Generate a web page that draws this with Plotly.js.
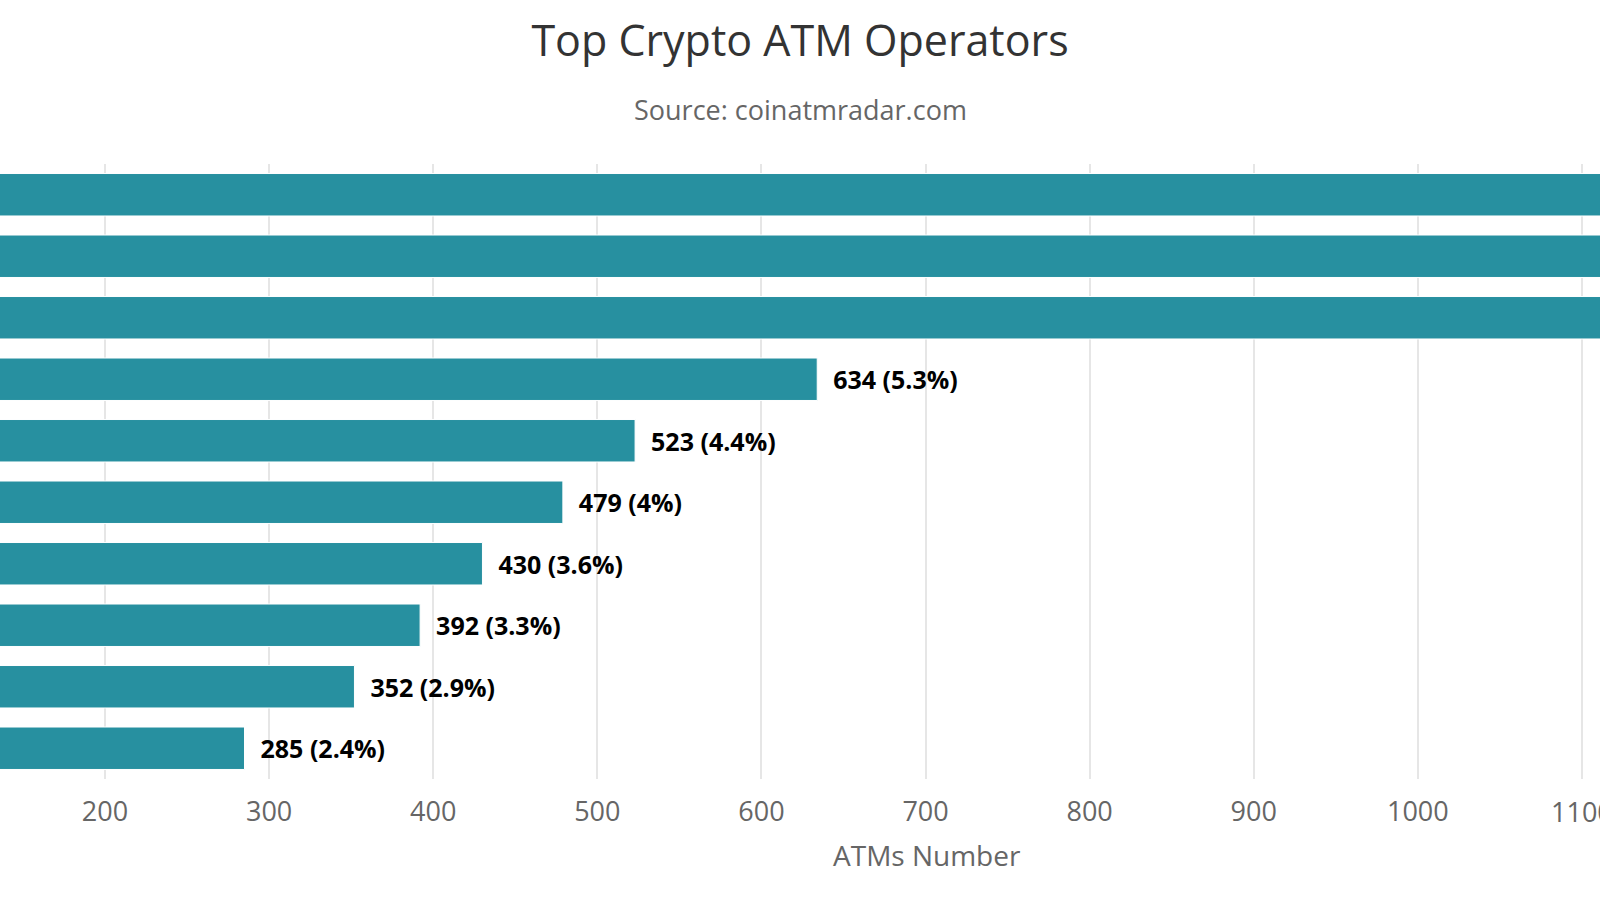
<!DOCTYPE html>
<html>
<head>
<meta charset="utf-8">
<script src="https://cdn.plot.ly/plotly-3.0.1.min.js"></script>
<style>html,body{margin:0;padding:0;background:#fff;}#chart{width:1600px;height:900px;}</style>
</head>
<body>
<div id="chart"></div>
<script>
// Operators ranked by number of ATMs (names lie outside the visible crop)
const operators = ["Operator 1","Operator 2","Operator 3","Operator 4","Operator 5","Operator 6","Operator 7","Operator 8","Operator 9","Operator 10"];
const atms = [2900, 1830, 1210, 634, 523, 479, 430, 392, 352, 285];
// labels of the three longest bars fall outside the visible crop
const labelTexts = ["", "", "", "634 (5.3%)", "523 (4.4%)", "479 (4%)", "430 (3.6%)", "392 (3.3%)", "352 (2.9%)", "285 (2.4%)"];
const tickVals = [200,300,400,500,600,700,800,900,1000];
const edgeTick = 1100; // partly cut off at the right edge in the reference

const labels = labelTexts.map(t => t ? '\u00a0\u00a0' + t : '');

const trace = {
  type: 'bar',
  orientation: 'h',
  y: operators,
  x: atms,
  text: labels,
  textposition: 'outside',
  cliponaxis: true,
  textfont: {family: 'Open Sans, sans-serif', size: 25, color: '#000', weight: 'bold'},
  marker: {color: '#2790a0', line: {color: '#ffffff', width: 1}},
  hoverinfo: 'x+y'
};

const tickFont = {family: 'Open Sans, sans-serif', size: 27, color: '#666'};

const layout = {
  width: 1600, height: 900,
  margin: {l: 0, r: 0, t: 164, b: 121, pad: 0},
  paper_bgcolor: '#fff', plot_bgcolor: '#fff',
  showlegend: false,
  bargap: 0.31,
  font: {family: 'Open Sans, sans-serif', color: '#666'},
  title: {text: 'Top Crypto ATM Operators', x: 0.5, xanchor: 'center', y: 1 - 41/900, yanchor: 'middle',
          font: {family: 'Open Sans, sans-serif', size: 43, color: '#333'}},
  xaxis: {
    range: [136, 1111],
    tickvals: tickVals.concat([edgeTick]),
    ticktext: tickVals.map(String).concat(['']),
    showgrid: true, gridcolor: '#e6e6e6', gridwidth: 2,
    zeroline: false, showline: false, ticks: '',
    ticklabelstandoff: 14,
    tickfont: tickFont
  },
  yaxis: {
    autorange: 'reversed',
    showticklabels: false, showgrid: false, zeroline: false, showline: false, ticks: ''
  },
  annotations: [
    {text: 'Source: coinatmradar.com', xref: 'paper', yref: 'paper', x: 0.5, y: (779-109)/615,
     xanchor: 'center', yanchor: 'middle', showarrow: false,
     font: {family: 'Open Sans, sans-serif', size: 27, color: '#666'}},
    {text: 'ATMs Number', xref: 'paper', yref: 'paper', x: 927/1600, y: (779-855)/615,
     xanchor: 'center', yanchor: 'middle', showarrow: false,
     font: {family: 'Open Sans, sans-serif', size: 28, color: '#666'}},
    {text: String(edgeTick), xref: 'x', yref: 'paper', x: edgeTick, y: (779-811)/615,
     xanchor: 'center', yanchor: 'middle', showarrow: false, font: tickFont}
  ]
};

Plotly.newPlot('chart', [trace], layout, {displayModeBar: false, staticPlot: true});
</script>
</body>
</html>
